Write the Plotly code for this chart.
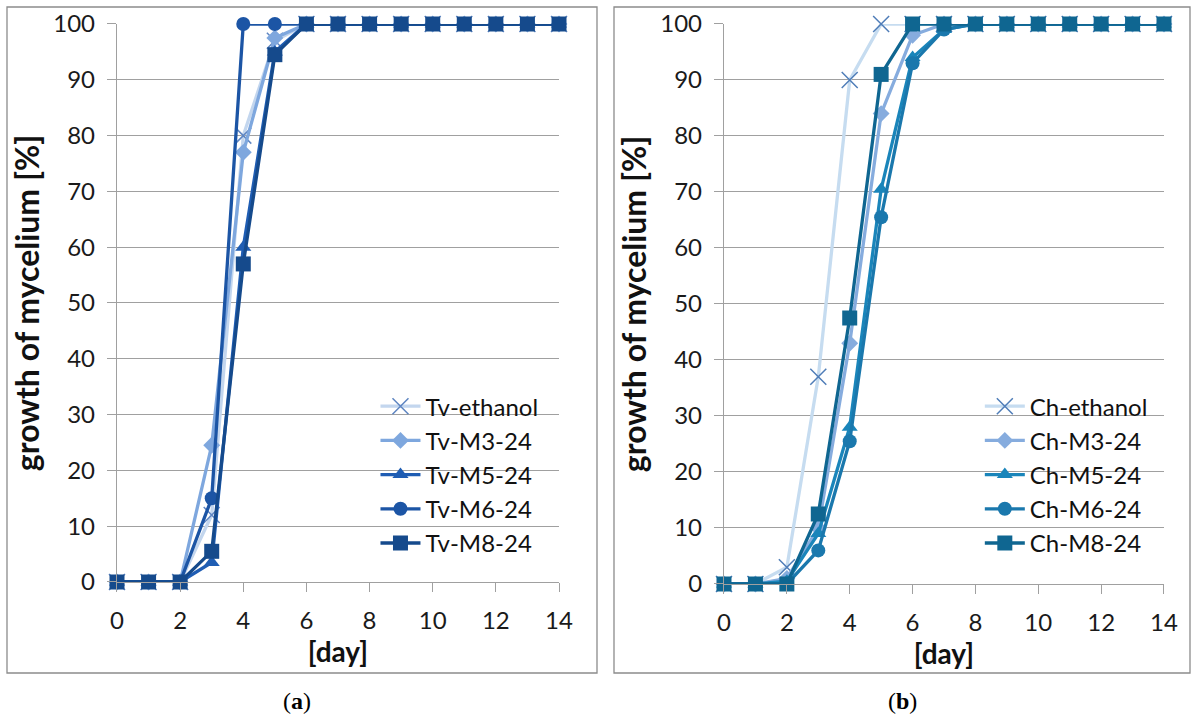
import plotly.graph_objects as go

days = list(range(0, 15))

# Panel (a): Trametes versicolor
tv_names = ["Tv-ethanol", "Tv-M3-24", "Tv-M5-24", "Tv-M6-24", "Tv-M8-24"]
tv_ethanol = [0, 0, 0, 12, 80, 97, 100, 100, 100, 100, 100, 100, 100, 100, 100]
tv_m3 = [0, 0, 0, 24.5, 77, 97.5, 100, 100, 100, 100, 100, 100, 100, 100, 100]
tv_m5 = [0, 0, 0, 3.5, 60, 95, 100, 100, 100, 100, 100, 100, 100, 100, 100]
tv_m6 = [0, 0, 0, 15, 100, 100, 100, 100, 100, 100, 100, 100, 100, 100, 100]
tv_m8 = [0, 0, 0, 5.5, 57, 94.5, 100, 100, 100, 100, 100, 100, 100, 100, 100]

# Panel (b): Chaetomium
ch_names = ["Ch-ethanol", "Ch-M3-24", "Ch-M5-24", "Ch-M6-24", "Ch-M8-24"]
ch_ethanol = [0, 0, 3, 37, 90, 100, 100, 100, 100, 100, 100, 100, 100, 100, 100]
ch_m3 = [0, 0, 1, 10, 43, 84, 98, 100, 100, 100, 100, 100, 100, 100, 100]
ch_m5 = [0, 0, 0.5, 9, 28, 70.5, 94, 99, 100, 100, 100, 100, 100, 100, 100]
ch_m6 = [0, 0, 0, 6, 25.5, 65.5, 93, 99, 100, 100, 100, 100, 100, 100, 100]
ch_m8 = [0, 0, 0, 12.5, 47.5, 91, 100, 100, 100, 100, 100, 100, 100, 100, 100]

x_ticks = [0, 2, 4, 6, 8, 10, 12, 14]
y_ticks = list(range(0, 101, 10))

symbols = ["x-thin-open", "diamond", "triangle-up", "circle", "square"]
sizes = [16, 13, 14, 14, 15]
tv_colors = ["#c3d6ee", "#7ea7de", "#1f5db3", "#1c55a5", "#154a8c"]
ch_colors = ["#c6dcf0", "#86acde", "#1a85ba", "#1a78ad", "#0f6691"]
tv_xcol = "#5f86c2"
ch_xcol = "#4f7db8"

FONT = "Lato"

fig = go.Figure()


def add_panel(names, series, colors, xcol, xa, ya, legend):
    for i, (nm, ys) in enumerate(zip(names, series)):
        mk = dict(symbol=symbols[i], size=sizes[i], color=colors[i])
        if i == 0:
            mk = dict(symbol=symbols[i], size=sizes[i], color=xcol,
                      line=dict(color=xcol, width=1.5))
        fig.add_trace(go.Scatter(
            x=days, y=ys, name=nm, mode="lines+markers",
            line=dict(color=colors[i], width=3.3),
            marker=mk, xaxis=xa, yaxis=ya, legend=legend,
            cliponaxis=False,
        ))


add_panel(tv_names, [tv_ethanol, tv_m3, tv_m5, tv_m6, tv_m8], tv_colors, tv_xcol, "x", "y", "legend")
add_panel(ch_names, [ch_ethanol, ch_m3, ch_m5, ch_m6, ch_m8], ch_colors, ch_xcol, "x2", "y2", "legend2")

grid = "#a0a0a0"
tickfont = dict(family=FONT, size=24, color="#1a1a1a")
xtitlefont = dict(family=FONT, size=28, color="#111111")
ytitlefont = dict(family=FONT, size=32, color="#111111")

xaxis_common = dict(range=[0, 14], tickvals=x_ticks, showgrid=False, zeroline=False,
                    showline=True, linecolor=grid, linewidth=1.3, ticks="outside",
                    ticklen=9, tickcolor=grid, tickfont=tickfont, ticklabelstandoff=8,
                    title=dict(text="<b>[day]</b>", font=xtitlefont, standoff=0),
                    automargin=False, fixedrange=True)
yaxis_common = dict(range=[0, 100], tickvals=y_ticks, showgrid=True, gridcolor=grid,
                    gridwidth=1.3, zeroline=False, showline=True, linecolor=grid,
                    linewidth=1.3, ticks="outside", ticklen=9, tickcolor=grid,
                    tickfont=tickfont, ticklabelstandoff=7,
                    title=dict(text="<b>growth of mycelium [%]</b>", font=ytitlefont, standoff=4),
                    automargin=False, fixedrange=True)

fig.update_layout(
    width=1192, height=722,
    margin=dict(l=0, r=0, t=0, b=0, autoexpand=False),
    paper_bgcolor="white", plot_bgcolor="white",
    font=dict(family=FONT),
    xaxis=dict(domain=[0.09815, 0.46896], anchor="y", **xaxis_common),
    yaxis=dict(domain=[0.19391, 0.96676], anchor="x", **yaxis_common),
    xaxis2=dict(domain=[0.60738, 0.97651], anchor="y2", **xaxis_common),
    yaxis2=dict(domain=[0.19114, 0.96676], anchor="x2", **yaxis_common),
    legend=dict(x=0.315, y=0.468, xanchor="left", yanchor="top",
                font=dict(family=FONT, size=24, color="#111111"),
                bgcolor="rgba(255,255,255,0)", itemwidth=40, tracegroupgap=0),
    legend2=dict(x=0.822, y=0.468, xanchor="left", yanchor="top",
                 font=dict(family=FONT, size=24, color="#111111"),
                 bgcolor="rgba(255,255,255,0)", itemwidth=40, tracegroupgap=0),
    showlegend=True,
)

# panel frames
frame = dict(type="rect", xref="paper", yref="paper",
             line=dict(color="#8c8c8c", width=1.3), fillcolor="rgba(0,0,0,0)", layer="below")
fig.add_shape(x0=7/1192, x1=597/1192, y0=1-673/722, y1=1-7/722, **frame)
fig.add_shape(x0=614/1192, x1=1190/1192, y0=1-673/722, y1=1-7/722, **frame)

# panel captions
for txt, xc in [("(<b>a</b>)", 297/1192), ("(<b>b</b>)", 902/1192)]:
    fig.add_annotation(text=txt, x=xc, y=1-701/722, xref="paper", yref="paper",
                       showarrow=False, xanchor="center", yanchor="middle",
                       font=dict(family="Liberation Serif", size=24, color="#000000"))

fig.write_html("out.html")
